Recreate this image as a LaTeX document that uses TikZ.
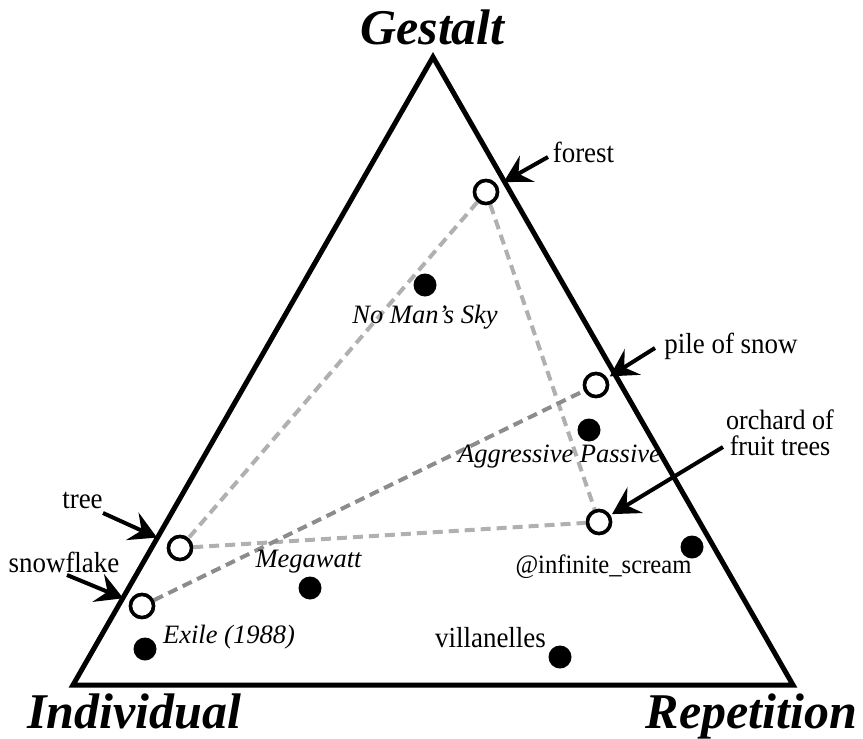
\documentclass[tikz,border=0pt]{standalone}
\usepackage{fontspec}
\setmainfont{Liberation Serif}
\newfontfamily\lblfont{Liberation Serif}[FakeStretch=0.93]
\usetikzlibrary{arrows.meta}
\definecolor{lightdash}{HTML}{B0B0B0}
\definecolor{darkdash}{HTML}{8C8C8C}
\tikzset{
  axislabel/.style={font=\fontsize{50}{54}\selectfont\bfseries\itshape, inner sep=0pt, anchor=base},
  lbl/.style={font=\lblfont\fontsize{29}{24}\selectfont, inner sep=0pt, anchor=base},
  ilbl/.style={font=\fontsize{26.5}{25}\selectfont\itshape, inner sep=0pt, anchor=base},
  opendot/.style={circle, draw=black, fill=white, line width=3.5pt, minimum size=23pt, inner sep=0pt},
  fulldot/.style={circle, fill=black, minimum size=23pt, inner sep=0pt},
  lightline/.style={draw=lightdash, line width=4pt, dash pattern=on 10pt off 6pt},
  darkline/.style={draw=darkdash, line width=4pt, dash pattern=on 10pt off 6pt},
  pointer/.style={draw=black, line width=4pt, -{Stealth[length=27pt,width=30pt,inset=10pt]}},
}
\begin{document}
\begin{tikzpicture}[x=1pt,y=-1pt]
\useasboundingbox (0,0) rectangle (863,739);
% triangle
\draw[line width=5pt, line join=miter] (433,57) -- (73,685) -- (793,685) -- cycle;
% axis labels
\node[axislabel] (gestalt) at (432.5,44) {Gestalt};
\node[axislabel] (individual) at (134,728) {Individual};
\node[axislabel] (repetition) at (751.5,728) {Repetition};
% open points
\node[opendot] (forest) at (486,192) {};
\node[opendot] (pile) at (596,385) {};
\node[opendot] (orchard) at (599,522) {};
\node[opendot] (tree) at (180,548) {};
\node[opendot] (snowflake) at (142,606) {};
% dashed connectors
\draw[lightline] (forest) -- (tree);
\draw[lightline] (forest) -- (orchard);
\draw[lightline] (tree) -- (orchard);
\draw[darkline] (snowflake) -- (pile);
% redraw open points on top
\node[opendot] at (forest) {};
\node[opendot] at (pile) {};
\node[opendot] at (orchard) {};
\node[opendot] at (tree) {};
\node[opendot] at (snowflake) {};
% filled points
\node[fulldot] (nms) at (425,285) {};
\node[fulldot] (ap) at (589,430) {};
\node[fulldot] (inf) at (692,547) {};
\node[fulldot] (mega) at (310,588) {};
\node[fulldot] (exile) at (145,649) {};
\node[fulldot] (vill) at (560,657) {};
% filled point labels
\node[ilbl] (nmsL) at (425,323) {No Man’s Sky};
\node[ilbl] (apL) at (559.5,462) {Aggressive Passive};
\node[lbl, font=\lblfont\fontsize{26.5}{25}\selectfont] (infL) at (603.5,573) {@infinite\_scream};
\node[ilbl] (megaL) at (308.5,567) {Megawatt};
\node[ilbl] (exileL) at (229,643) {Exile (1988)};
\node[lbl] (villL) at (490.5,647) {villanelles};
% pointer labels
\node[lbl] (forestL) at (583.5,162) {forest};
\node[lbl] (pileL) at (731,353) {pile of snow};
\node[lbl, align=center, font=\lblfont\fontsize{28}{26}\selectfont] (orchardL) at (780,455) {orchard of\\fruit trees};
\node[lbl] (treeL) at (82.5,508) {tree};
\node[lbl] (snowL) at (64,572) {snowflake};
% pointer start points
\coordinate (forestS) at (548,157);
\coordinate (pileS) at (655,348);
\coordinate (orchardS) at (723,447);
\coordinate (treeS) at (103,513);
\coordinate (snowS) at (67,575);
\draw[pointer, shorten >=7pt] (forestS) -- (forest);
\draw[pointer, shorten >=3pt] (pileS) -- (pile);
\draw[pointer, shorten >=2pt] (orchardS) -- (orchard);
\draw[pointer, shorten >=12pt] (treeS) -- (tree);
\draw[pointer, shorten >=7pt] (snowS) -- (snowflake);
\end{tikzpicture}
\end{document}
